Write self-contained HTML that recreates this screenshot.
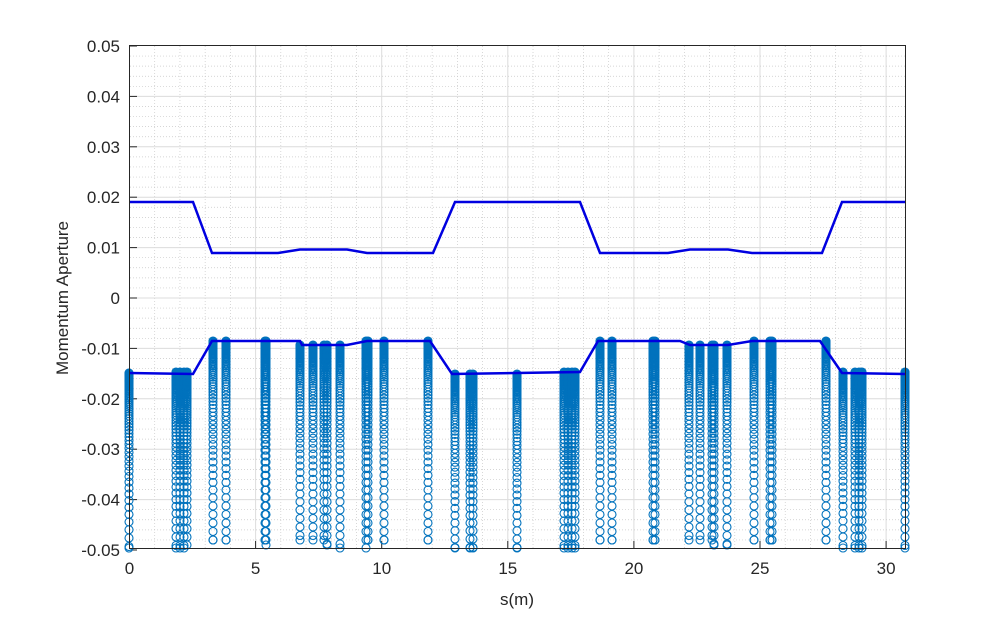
<!DOCTYPE html>
<html><head><meta charset="utf-8"><style>
body{margin:0;background:#fff;}
svg{display:block;font-family:"Liberation Sans",Arial,sans-serif;}
</style></head><body>
<svg id="s" width="1000" height="618" xmlns="http://www.w3.org/2000/svg">
<rect x="0" y="0" width="1000" height="618" fill="#fff"/>
<g id="grid"></g>
<g id="circ" fill="none" stroke="#0072BD" stroke-width="1.1"></g>
<polyline fill="none" stroke="#0000e0" stroke-width="2.5" points="129,202 193,202 212,253 278,253 300,249.5 347,249.5 367,253 433,253 455,202 580,202 600,253 668,253 690,249.5 728,249.5 752,253 822,253 842,202 905,202"/>
<polyline fill="none" stroke="#0000e0" stroke-width="2.5" points="129,373 193,374 212,341 300,341 302,345 347,345 367,341 430,341 452,374 580,372 598,341 680,341 690,345 728,345 752,341 820,341 842,373 905,374"/>
<rect x="129.5" y="45.5" width="776" height="503" fill="none" stroke="#262626" stroke-width="1"/>
<g id="lab" font-size="17" fill="#262626"></g>
<text x="517" y="605" font-size="17" text-anchor="middle" fill="#262626">s(m)</text>
<text transform="translate(68,298) rotate(-90)" font-size="17" text-anchor="middle" fill="#262626">Momentum Aperture</text>
</svg>
<script>
var NS="http://www.w3.org/2000/svg";
function el(p,n,a,t){var e=document.createElementNS(NS,n);for(var k in a)e.setAttribute(k,a[k]);if(t!=null)e.textContent=t;p.appendChild(e);return e;}
var X=function(s){return 129.5+s*25.22;},Y=function(v){return 298-v*5040;};
var g=document.getElementById('grid'),lab=document.getElementById('lab');
for(var i=1;i<=30;i++){var x=X(i);el(g,'line',{x1:x,x2:x,y1:46,y2:548,stroke:i%5?'#c8c8c8':'#dcdcdc','stroke-width':i%5?0.7:1,'stroke-dasharray':i%5?'1,2':''});}
for(var j=-24;j<=24;j++){var y=Y(j*0.002);el(g,'line',{x1:130,x2:905,y1:y,y2:y,stroke:j%5?'#c8c8c8':'#dcdcdc','stroke-width':j%5?0.7:1,'stroke-dasharray':j%5?'1,2':''});}
for(var i=0;i<=30;i+=5){var x=X(i);el(lab,'text',{x:x,y:574,'text-anchor':'middle'},String(i));el(g,'line',{x1:x,x2:x,y1:548,y2:541,stroke:'#262626'});}
for(var j=-5;j<=5;j++){var v=j/100,y=Y(v);el(lab,'text',{x:120,y:y+6,'text-anchor':'end'},v==0?'0':v.toFixed(2));el(g,'line',{x1:130,x2:137,y1:y,y2:y,stroke:'#262626'});}
var cols=[[129,373,548],[176,372,548],[180,372,548],[184,372,548],[187,372,545],[213,341,540],[226,341,540],[265,341,540],[266,341,545],[300,345,540],[313,345,540],[324,345,540],[327,345,545],[340,345,548],[366,341,548],[368,341,540],[384,341,540],[428,341,540],[455,374,548],[470,374,548],[473,374,548],[517,374,548],[564,372,548],[568,372,548],[572,372,548],[575,372,548],[600,341,540],[612,341,540],[653,341,540],[655,341,540],[689,345,540],[700,345,540],[712,345,540],[714,345,545],[727,345,545],[754,341,540],[770,341,540],[772,341,540],[826,341,540],[843,372,548],[855,372,548],[859,372,548],[862,372,548],[905,372,548]];
var c=document.getElementById('circ');
cols.forEach(function(cc){var y=cc[1],d=0.4;while(y<=cc[2]){el(c,'circle',{cx:cc[0],cy:y,r:4});y+=d;d=Math.min(d*1.05,8.5);}el(c,'circle',{cx:cc[0],cy:cc[2],r:4});});
</script>
</body></html>
